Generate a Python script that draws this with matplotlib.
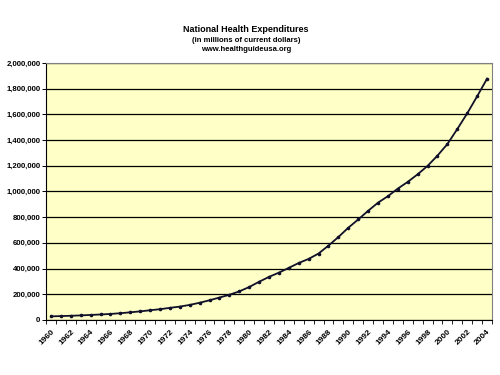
import matplotlib
matplotlib.use('Agg')
import matplotlib.pyplot as plt
from matplotlib.ticker import FuncFormatter

plt.rcParams['font.family'] = ['Liberation Sans', 'DejaVu Sans']

# National health expenditures, millions of current dollars
years = list(range(1960, 2005))
spending = [27357, 29484, 31934, 34778, 38375, 41949, 46134, 51823, 58834, 66138,
            74852, 83126, 93530, 103358, 116479, 133291, 152659, 173959, 195509, 221737,
            255752, 296633, 334719, 367782, 405046, 442901, 474666, 516484, 578270, 644812,
            717265, 781565, 849135, 912549, 963069, 1022305, 1074368, 1133478, 1199026, 1279062,
            1368997, 1485847, 1607926, 1740562, 1877597]
yticks = [0, 200000, 400000, 600000, 800000, 1000000, 1200000, 1400000,
          1600000, 1800000, 2000000]

fig = plt.figure(figsize=(5, 3.75), dpi=100)
ax = fig.add_axes([0.092, 0.147, 0.892, 0.685])
ax.set_facecolor('#ffffc8')

x = list(range(len(years)))
ax.plot(x, spending, color='#10102a', lw=1.3, marker='o', ms=1.6, zorder=3)

ax.set_xlim(-0.5, len(years) - 0.5)
ax.set_ylim(0, 2000000)
ax.set_yticks(yticks)
ax.yaxis.set_major_formatter(FuncFormatter(lambda v, p: '{:,.0f}'.format(v)))
ax.grid(axis='y', color='black', lw=0.9)
ax.set_axisbelow(True)

ax.set_xticks(x[::2])
ax.set_xticklabels([str(y) for y in years[::2]], rotation=45, ha='right',
                   va='top', rotation_mode='anchor')
ax.set_xticks([i - 0.5 for i in range(len(years) + 1)], minor=True)
ax.tick_params(axis='x', which='major', length=0, labelsize=6, pad=6)
ax.tick_params(axis='x', which='minor', length=3, width=0.6)
ax.tick_params(axis='y', length=3, width=0.7, labelsize=5.6, pad=1)
for lab in ax.get_xticklabels() + ax.get_yticklabels():
    lab.set_fontweight('bold')

for s in ['top', 'right']:
    ax.spines[s].set_color('#808080')
    ax.spines[s].set_linewidth(0.8)
ax.spines['left'].set_color('black')
ax.spines['bottom'].set_color('black')

fig.text(0.492, 0.920, 'National Health Expenditures', ha='center', va='center',
         fontsize=6.5, fontweight='bold')
fig.text(0.492, 0.893, '(in millions of current dollars)', ha='center', va='center',
         fontsize=5.5, fontweight='bold')
fig.text(0.492, 0.868, 'www.healthguideusa.org', ha='center', va='center',
         fontsize=5.5, fontweight='bold')

fig.savefig('out.png', dpi=100)
